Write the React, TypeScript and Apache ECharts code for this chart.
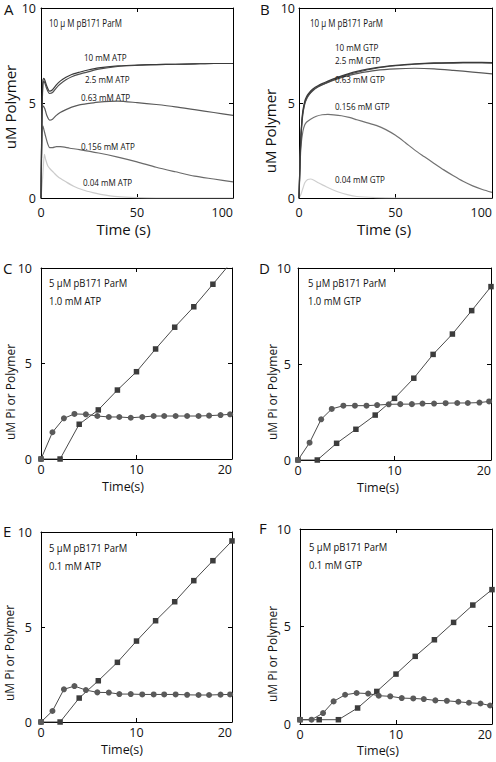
import React, { useEffect, useRef } from "react";
import * as echarts from "echarts";

const FONT = "'Open Sans', 'DejaVu Sans', sans-serif";

// ---------- Panel A (ATP, polymer vs time) ----------
const tA_10 = [0, 0.5, 1, 1.5, 2, 3, 4.5, 6, 8, 10, 13, 16, 20, 25, 30, 40, 50, 60, 70, 80, 90, 100];
const yA_10 = [0, 4.5, 6.2, 6.3, 6.2, 5.9, 5.62, 5.7, 5.95, 6.15, 6.35, 6.5, 6.62, 6.75, 6.85, 6.95, 7.0, 7.02, 7.04, 7.06, 7.08, 7.08];
const yA_2_5 = [0, 4.2, 6.0, 6.15, 6.05, 5.75, 5.5, 5.55, 5.8, 6.0, 6.22, 6.38, 6.52, 6.65, 6.78, 6.92, 6.98, 7.02, 7.04, 7.06, 7.08, 7.08];
const tA_063 = [0, 0.5, 1, 2, 3, 4.5, 6, 8, 10, 13, 16, 20, 25, 30, 40, 50, 60, 70, 80, 90, 100];
const yA_063 = [0, 4.0, 4.85, 4.7, 4.35, 4.1, 4.15, 4.35, 4.5, 4.65, 4.78, 4.9, 4.98, 5.05, 5.1, 5.02, 4.92, 4.8, 4.65, 4.5, 4.35];
const tA_0156 = [0, 0.5, 1, 1.5, 2.5, 3.5, 4.5, 6, 8, 10, 15, 20, 30, 40, 50, 60, 70, 80, 90, 100];
const yA_0156 = [0, 3.2, 3.8, 3.6, 3.2, 2.85, 2.65, 2.65, 2.7, 2.7, 2.62, 2.55, 2.37, 2.15, 1.9, 1.62, 1.38, 1.15, 1.0, 0.85];
const tA_004 = [0, 0.8, 1.8, 2.5, 3.5, 5, 6.5, 9, 13, 17, 22, 27, 31, 40, 50, 60, 100];
const yA_004 = [0, 1.0, 2.3, 2.0, 1.7, 1.5, 1.35, 1.1, 0.85, 0.62, 0.42, 0.28, 0.19, 0.07, 0.02, 0, 0];

// ---------- Panel B (GTP, polymer vs time) ----------
const tB = [0, 0.5, 1, 1.5, 2, 3, 4, 5, 7, 10, 15, 20, 25, 30, 40, 50, 60, 70, 80, 90, 100];
const yB_10 = [0, 1.9, 3.3, 4.1, 4.6, 5.1, 5.35, 5.5, 5.72, 5.92, 6.15, 6.35, 6.52, 6.66, 6.86, 6.98, 7.06, 7.11, 7.13, 7.14, 7.13];
const yB_2_5 = [0, 1.8, 3.2, 4.0, 4.5, 5.0, 5.27, 5.43, 5.66, 5.87, 6.1, 6.3, 6.48, 6.62, 6.83, 6.96, 7.04, 7.09, 7.1, 7.11, 7.1];
const yB_063 = [0, 1.7, 3.1, 3.9, 4.4, 4.95, 5.22, 5.4, 5.63, 5.85, 6.08, 6.27, 6.43, 6.55, 6.72, 6.8, 6.83, 6.8, 6.72, 6.63, 6.53];
const tB_0156 = [0, 0.5, 1, 2, 3, 4, 6, 9, 12, 15, 18, 22, 26, 30, 35, 40, 45, 50, 55, 60, 65, 70, 75, 80, 85, 90, 95, 100];
const yB_0156 = [0, 1.5, 2.7, 3.5, 3.85, 4.0, 4.15, 4.3, 4.38, 4.4, 4.38, 4.33, 4.24, 4.12, 3.97, 3.82, 3.6, 3.3, 2.92, 2.52, 2.17, 1.82, 1.48, 1.17, 0.88, 0.64, 0.45, 0.3];
const tB_004 = [0, 1, 2, 3, 4.5, 6, 8, 10, 13, 16, 20, 25, 30, 40, 50, 100];
const yB_004 = [0, 0.2, 0.5, 0.8, 0.98, 1.0, 0.92, 0.8, 0.65, 0.5, 0.33, 0.18, 0.08, 0.02, 0, 0];

// ---------- Panels C-F (Pi release = circles, polymer = squares) ----------
const tCirc = [0, 1.2, 2.4, 3.5, 4.7, 5.9, 7.1, 8.2, 9.4, 10.6, 11.8, 12.9, 14.1, 15.3, 16.5, 17.6, 18.8, 19.8];
const tSq = [0, 2, 4, 6, 8, 10, 12, 14, 16, 18, 20];

const cCirc = [0, 1.4, 2.13, 2.36, 2.34, 2.25, 2.2, 2.2, 2.16, 2.2, 2.25, 2.25, 2.25, 2.25, 2.25, 2.27, 2.3, 2.34];
const cSq = [0, 0, 1.82, 2.57, 3.61, 4.57, 5.76, 6.9, 7.97, 9.15, 10.35];
const dCirc = [0, 0.9, 2.12, 2.66, 2.83, 2.83, 2.83, 2.86, 2.9, 2.91, 2.91, 2.94, 2.94, 2.96, 2.97, 2.97, 2.99, 3.05];
const dSq = [0, 0, 0.87, 1.6, 2.34, 3.21, 4.26, 5.5, 6.56, 7.78, 9.03];
const eCirc = [0, 0.58, 1.72, 1.89, 1.68, 1.56, 1.55, 1.47, 1.47, 1.45, 1.45, 1.45, 1.45, 1.43, 1.42, 1.42, 1.44, 1.45];
const eSq = [0, 0, 1.26, 2.17, 3.14, 4.26, 5.33, 6.33, 7.44, 8.49, 9.53];
const fCirc = [0.22, 0.22, 0.56, 1.16, 1.5, 1.59, 1.56, 1.45, 1.42, 1.33, 1.31, 1.28, 1.21, 1.19, 1.14, 1.09, 1.05, 0.95];
const fSq = [0.22, 0.22, 0.22, 0.82, 1.67, 2.56, 3.47, 4.32, 5.21, 6.1, 6.89];

// ---------- Texts ----------
const panelLetters = ["A", "B", "C", "D", "E", "F"];
const headerAB = "10 µ M pB171 ParM";
const headerCF = "5 µM pB171 ParM";
const nucleotideCF = ["1.0 mM ATP", "1.0 mM GTP", "0.1 mM ATP", "0.1 mM GTP"];
const labelsA = ["10 mM ATP", "2.5 mM ATP", "0.63 mM ATP", "0.156 mM ATP", "0.04 mM ATP"];
const labelsB = ["10 mM GTP", "2.5 mM GTP", "0.63 mM GTP", "0.156 mM GTP", "0.04 mM GTP"];
const yTitleAB = "uM Polymer";
const yTitleCF = "uM Pi or Polymer";
const xTitleAB = "Time (s)";
const xTitleCF = "Time(s)";

const zip = (t: number[], y: number[]) => t.map((v, i) => [v, y[i]]);

export default function App() {
  const ref = useRef<HTMLDivElement>(null);
  useEffect(() => {
    const chart = echarts.init(ref.current!, undefined, { renderer: "svg" });

    const grids = [
      { left: 41, top: 7, width: 192, height: 191 },
      { left: 299, top: 7, width: 193, height: 191 },
      { left: 41, top: 268, width: 191, height: 191 },
      { left: 298, top: 268, width: 193, height: 192 },
      { left: 41, top: 532, width: 191, height: 190 },
      { left: 300, top: 529, width: 192, height: 195 },
    ];
    const xMaxes = [100, 100, 20, 20, 20, 20];
    const xInts = [50, 50, 10, 10, 10, 10];
    const yMargins = [5, 4, 9, 7, 9, 9];
    const xMargins = [8, 8, 4, 4, 4, 4];
    const yPads = [4, 4, 8, 8, 8, 8];

    const axLine = { show: true, onZero: false, lineStyle: { color: "#000", width: 1 } };
    const tick = { show: true, inside: true, length: 4, lineStyle: { color: "#000", width: 1 } };
    const xAxis: any[] = [];
    const yAxis: any[] = [];
    grids.forEach((g, i) => {
      xAxis.push({
        gridIndex: i, type: "value", min: 0, max: xMaxes[i], interval: xInts[i], position: "bottom",
        axisLine: axLine, axisTick: tick, splitLine: { show: false },
        axisLabel: {
          fontSize: 12.5, lineHeight: 12, color: "#111", fontFamily: FONT,
          margin: xMargins[i], alignMaxLabel: "right",
        },
      });
      xAxis.push({
        gridIndex: i, type: "value", min: 0, max: xMaxes[i], interval: xInts[i], position: "top",
        axisLine: axLine, axisTick: tick, splitLine: { show: false }, axisLabel: { show: false },
      });
      yAxis.push({
        gridIndex: i, type: "value", min: 0, max: 10, interval: 5, position: "left",
        axisLine: axLine, axisTick: tick, splitLine: { show: false },
        axisLabel: {
          fontSize: 12.5, lineHeight: 12, color: "#111", fontFamily: FONT,
          margin: yMargins[i], padding: [yPads[i], 0, 0, 0],
        },
      });
      yAxis.push({
        gridIndex: i, type: "value", min: 0, max: 10, interval: 5, position: "right",
        axisLine: axLine, axisTick: tick, splitLine: { show: false }, axisLabel: { show: false },
      });
    });

    const curve = (gi: number, t: number[], y: number[], color: string, w = 1.2) => ({
      type: "line", xAxisIndex: gi * 2, yAxisIndex: gi * 2, data: zip(t, y),
      symbol: "none", showSymbol: false, smooth: 0.25, lineStyle: { color, width: w }, z: 3,
    });
    const marked = (gi: number, t: number[], y: number[], sym: string, color: string, size: number) => ({
      type: "line", xAxisIndex: gi * 2, yAxisIndex: gi * 2, data: zip(t, y),
      symbol: sym, symbolSize: size, showSymbol: true, clip: true,
      itemStyle: { color, borderWidth: 0 }, lineStyle: { color: "#4a4a4a", width: 1 }, z: 3,
    });

    const series: any[] = [
      curve(0, tA_004, yA_004, "#cbcbcb"),
      curve(0, tA_0156, yA_0156, "#6a6a6a"),
      curve(0, tA_063, yA_063, "#5a5a5a"),
      curve(0, tA_10, yA_2_5, "#505050"),
      curve(0, tA_10, yA_10, "#3a3a3a"),
      curve(1, tB_004, yB_004, "#cfcfcf"),
      curve(1, tB_0156, yB_0156, "#727272"),
      curve(1, tB, yB_063, "#585858"),
      curve(1, tB, yB_2_5, "#4a4a4a"),
      curve(1, tB, yB_10, "#3a3a3a"),
      marked(2, tSq, cSq, "rect", "#3c3c3c", 5.5),
      marked(2, tCirc, cCirc, "circle", "#5a5a5a", 6),
      marked(3, tSq, dSq, "rect", "#3c3c3c", 5.5),
      marked(3, tCirc, dCirc, "circle", "#5a5a5a", 6),
      marked(4, tSq, eSq, "rect", "#3c3c3c", 5.5),
      marked(4, tCirc, eCirc, "circle", "#5a5a5a", 6),
      marked(5, tSq, fSq, "rect", "#3c3c3c", 5.5),
      marked(5, tCirc, fCirc, "circle", "#5a5a5a", 6),
    ];

    const txt = (text: string, x: number, y: number, size: number, opts: any = {}) => ({
      type: "text", x, y, rotation: opts.rotation || 0, scaleX: opts.sx || 1, z: 10,
      style: {
        text, fontSize: size, lineHeight: size, fontFamily: FONT, fill: "#111",
        align: opts.align || "left", verticalAlign: "middle",
      },
    });

    const letterPos = [[4, 9], [260, 9], [3, 268], [259, 268], [3, 531], [259, 528]];
    const yTitlePos = [[10, 107], [270, 131], [10, 392], [272, 392], [9, 653], [272, 654]];
    const xTitlePos = [[123.5, 229], [384, 229], [123, 486], [378, 487], [122, 749], [378, 750]];
    const headerPos = [[49, 23], [310, 23], [49, 283], [308, 283], [49, 548], [309, 547]];

    const graphic: any[] = [];
    panelLetters.forEach((l, i) => graphic.push(txt(l, letterPos[i][0], letterPos[i][1], 15)));
    yTitlePos.forEach((p, i) =>
      graphic.push(txt(i < 2 ? yTitleAB : yTitleCF, p[0], p[1], i < 2 ? 15 : 12, { rotation: Math.PI / 2, align: "center" }))
    );
    xTitlePos.forEach((p, i) =>
      graphic.push(txt(i < 2 ? xTitleAB : xTitleCF, p[0], p[1], i < 2 ? 15 : 12.5, { align: "center" }))
    );
    headerPos.forEach((p, i) => {
      if (i < 2) graphic.push(txt(headerAB, p[0], p[1], 10, { sx: 0.8 }));
      else {
        graphic.push(txt(headerCF, p[0], p[1], 10.5, { sx: 0.9 }));
        graphic.push(txt(nucleotideCF[i - 2], p[0], p[1] + 18, 10.5, { sx: 0.9 }));
      }
    });
    const labelPosA = [[84, 58], [85, 80], [81, 98], [81, 147], [83, 183]];
    const labelPosB = [[335, 48], [335, 61], [335, 80], [335, 107], [335, 180]];
    labelsA.forEach((l, i) => graphic.push(txt(l, labelPosA[i][0], labelPosA[i][1], 9.5, { sx: 0.85 })));
    labelsB.forEach((l, i) => graphic.push(txt(l, labelPosB[i][0], labelPosB[i][1], 9.5, { sx: 0.85 })));

    chart.setOption({
      animation: false,
      backgroundColor: "#fff",
      grid: grids.map((g) => ({ ...g, containLabel: false })),
      xAxis,
      yAxis,
      series,
      graphic,
    });
    return () => chart.dispose();
  }, []);
  return (
    <div
      ref={ref}
      style={{ position: "absolute", left: 0, top: 0, width: 496, height: 762, background: "#fff" }}
    />
  );
}
